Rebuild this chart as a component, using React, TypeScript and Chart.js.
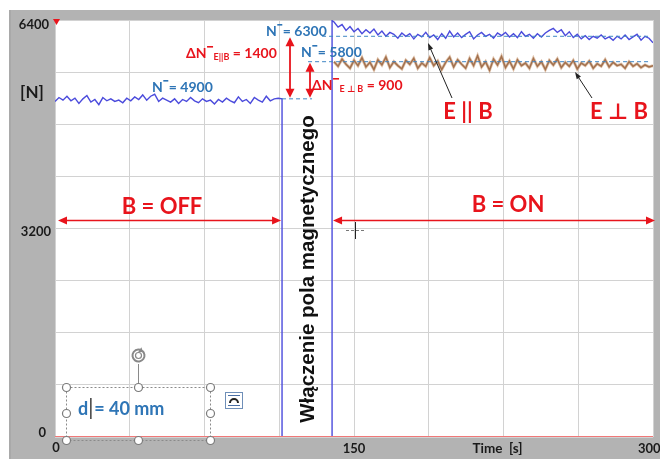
import React, { useEffect, useRef } from "react";
import { Chart, registerables } from "chart.js";

Chart.register(...registerables);

// ---- data ----
const SAMPLE_STEP = 2; // s
const beforeStart = 0; // s
// E || B, field off (N)
const parallelBefore = [
  5150, 5210, 5170, 5230, 5160, 5200, 5120, 5190, 5240, 5140,
  5180, 5100, 5210, 5160, 5190, 5150, 5170, 5130, 5200, 5160,
  5220, 5180, 5250, 5170, 5230, 5260, 5150, 5200, 5170, 5140,
  5190, 5120, 5180, 5150, 5210, 5160, 5130, 5190, 5150, 5170,
  5110, 5180, 5140, 5200, 5160, 5130, 5220, 5150, 5180, 5120,
  5210, 5170, 5140, 5230, 5160, 5190, 5200,
];
// switching the field on (box drawn by the E || B trace)
const switchTimes = [113.9, 113.9, 139, 139];
const switchValues = [5190, 0, 0, 6390];
const afterStart = 140; // s
// E || B, field on (N)
const parallelAfter = [
  6370, 6290, 6330, 6240, 6300, 6220, 6270, 6190, 6250, 6200,
  6260, 6170, 6230, 6150, 6210, 6180, 6120, 6200, 6150, 6190,
  6110, 6180, 6140, 6210, 6130, 6170, 6100, 6190, 6120, 6230,
  6140, 6200, 6130, 6180, 6220, 6110, 6170, 6210, 6150, 6180,
  6120, 6200, 6160, 6210, 6140, 6190, 6130, 6220, 6150, 6180,
  6120, 6190, 6140, 6200, 6240, 6270, 6210, 6250, 6160, 6220,
  6130, 6180, 6110, 6160, 6100, 6150, 6120, 6170, 6110, 6140,
  6090, 6150, 6110, 6170, 6100, 6140, 6180, 6090, 6150, 6120,
  6050,
];
// E ⊥ B, field on (N)
const perpendicularAfter = [
  5760, 5690, 5800, 5720, 5660, 5780, 5700, 5820, 5680, 5750,
  5640, 5790, 5710, 5830, 5670, 5760, 5700, 5650, 5780, 5720,
  5810, 5660, 5740, 5690, 5820, 5700, 5770, 5640, 5750, 5830,
  5680, 5790, 5720, 5660, 5810, 5700, 5850, 5680, 5760, 5630,
  5800, 5710, 5840, 5670, 5770, 5650, 5790, 5700, 5740, 5660,
  5810, 5690, 5760, 5640, 5780, 5710, 5800, 5670, 5750, 5690,
  5780, 5650, 5740, 5700, 5770, 5660, 5730, 5690, 5790, 5680,
  5750, 5700, 5720, 5660, 5760, 5690, 5730, 5670, 5710, 5680,
  5700,
];
// red trace lying on zero
const baselineTimes = [0, 300];
const baselineValues = [0, 0];

const xTickValues = [0, 150, 300];
const xTickLabels = ["0", "150", "300"];
const yTickValues = [0, 3200, 6400];
const yTickLabels = ["0", "3200", "6400"];
const xAxisTitle = "Time  [s]";
const yAxisTitle = "[N]";

const levelBefore = 4900;
const levelParallel = 6300;
const levelPerp = 5800;
const deltaParallel = 1400;
const deltaPerp = 900;

// ---- helpers ----
const sampled = (start: number, values: number[]) =>
  values.map((v, i) => ({ x: start + i * SAMPLE_STEP, y: v }));
const paired = (ts: number[], vs: number[]) => ts.map((t, i) => ({ x: t, y: vs[i] }));

const RED = "#e8141c";
const STEEL = "#2e75b6";
const CAL = "Lato, 'DejaVu Sans', sans-serif";

function txt(
  ctx: CanvasRenderingContext2D,
  s: string,
  x: number,
  y: number,
  font: string,
  color: string,
  align: CanvasTextAlign = "left"
) {
  ctx.font = font;
  ctx.fillStyle = color;
  ctx.textAlign = align;
  ctx.textBaseline = "middle";
  ctx.fillText(s, x, y);
  return ctx.measureText(s).width;
}

function arrowHead(ctx: CanvasRenderingContext2D, x: number, y: number, ang: number, len: number, w: number, color: string) {
  ctx.save();
  ctx.translate(x, y);
  ctx.rotate(ang);
  ctx.fillStyle = color;
  ctx.beginPath();
  ctx.moveTo(0, 0);
  ctx.lineTo(-len, -w);
  ctx.lineTo(-len, w);
  ctx.closePath();
  ctx.fill();
  ctx.restore();
}

function arrow(ctx: CanvasRenderingContext2D, x1: number, y1: number, x2: number, y2: number, color: string, lw: number, both: boolean, hl = 9, hw = 4) {
  const ang = Math.atan2(y2 - y1, x2 - x1);
  ctx.save();
  ctx.strokeStyle = color;
  ctx.lineWidth = lw;
  ctx.beginPath();
  ctx.moveTo(x1 + (both ? Math.cos(ang) * hl * 0.7 : 0), y1 + (both ? Math.sin(ang) * hl * 0.7 : 0));
  ctx.lineTo(x2 - Math.cos(ang) * hl * 0.7, y2 - Math.sin(ang) * hl * 0.7);
  ctx.stroke();
  ctx.restore();
  arrowHead(ctx, x2, y2, ang, hl, hw, color);
  if (both) arrowHead(ctx, x1, y1, ang + Math.PI, hl, hw, color);
}

function dashed(ctx: CanvasRenderingContext2D, x1: number, x2: number, y: number) {
  ctx.save();
  ctx.strokeStyle = "#3f86c4";
  ctx.lineWidth = 1;
  ctx.setLineDash([4, 3]);
  ctx.beginPath();
  ctx.moveTo(x1, y);
  ctx.lineTo(x2, y);
  ctx.stroke();
  ctx.restore();
}

function levelLabel(ctx: CanvasRenderingContext2D, x: number, y: number, value: number) {
  const f = `bold 14px ${CAL}`;
  const w = txt(ctx, "N", x, y, f, STEEL);
  ctx.fillStyle = STEEL;
  ctx.fillRect(x + w + 0.5, y - 7, 5, 1.6);
  txt(ctx, `= ${value}`, x + w + 6, y, f, STEEL);
}

function deltaLabel(ctx: CanvasRenderingContext2D, x: number, y: number, sub: string, value: number) {
  const f = `bold 14px ${CAL}`;
  let cx = x;
  cx += txt(ctx, "ΔN", cx, y, f, RED);
  ctx.fillStyle = RED;
  ctx.fillRect(cx + 0.5, y - 7, 6, 1.6);
  cx += 7;
  cx += txt(ctx, sub, cx, y + 4, `bold 9px ${CAL}`, RED);
  txt(ctx, ` = ${value}`, cx, y, f, RED);
}

const framePlugin = {
  id: "frame",
  beforeDraw(chart: any) {
    const { ctx, chartArea: a, width, height } = chart;
    ctx.save();
    ctx.fillStyle = "#ffffff";
    ctx.fillRect(0, 0, width, height);
    ctx.fillStyle = "#b3b3b3";
    ctx.fillRect(9, 10, width - 9, height - 10);
    ctx.fillStyle = "#a9a9a9";
    ctx.fillRect(9, 10, 2, height - 10);
    ctx.fillStyle = "#ffffff";
    ctx.fillRect(a.left, a.top, a.right - a.left, a.bottom - a.top);
    ctx.restore();
  },
};

const annotatePlugin = {
  id: "annotate",
  afterDraw(chart: any) {
    const { ctx, chartArea: a } = chart;
    const xs = chart.scales.x;
    const ys = chart.scales.y;
    const X = (t: number) => xs.getPixelForValue(t);
    const Y = (v: number) => ys.getPixelForValue(v);
    ctx.save();

    // tick labels
    const tf = `bold 13px ${CAL}`;
    txt(ctx, yTickLabels[2], 49, Y(yTickValues[2]) + 5, tf, "#1a1a1a", "right");
    txt(ctx, yTickLabels[1], 51, Y(yTickValues[1]) + 3, tf, "#1a1a1a", "right");
    txt(ctx, yTickLabels[0], 46, Y(yTickValues[0]) - 4, tf, "#1a1a1a", "right");
    txt(ctx, xTickLabels[0], X(xTickValues[0]) + 1, a.bottom + 11, tf, "#1a1a1a", "center");
    txt(ctx, xTickLabels[1], X(xTickValues[1]), a.bottom + 12, tf, "#1a1a1a", "center");
    txt(ctx, xTickLabels[2], X(xTickValues[2]) - 15, a.bottom + 12, tf, "#1a1a1a", "left");
    txt(ctx, xAxisTitle, X(222), a.bottom + 12, `bold 13.5px ${CAL}`, "#1a1a1a", "center");
    txt(ctx, yAxisTitle, 32, Y(5600) + 20, `bold 17px ${CAL}`, "#1a1a1a", "center");

    // red marker triangle at top-left
    ctx.fillStyle = RED;
    ctx.beginPath();
    ctx.moveTo(53, a.top - 1);
    ctx.lineTo(60, a.top - 1);
    ctx.lineTo(56.5, a.top + 5);
    ctx.closePath();
    ctx.fill();

    // dashed level lines
    const tOff = switchTimes[0];
    const tOn = switchTimes[2];
    dashed(ctx, X(tOff), X(tOff) + 30, Y(5190));
    dashed(ctx, X(tOn) - 10, X(300) - 4, Y(6150));
    dashed(ctx, X(tOn) - 24, X(300) - 4, Y(5760));

    // level labels
    levelLabel(ctx, 152, 87, levelBefore);
    levelLabel(ctx, 266, 31, levelParallel);
    levelLabel(ctx, 301, 52, levelPerp);
    deltaLabel(ctx, 186, 53, "E||B", deltaParallel);
    deltaLabel(ctx, 312, 85, "E ⊥ B", deltaPerp);

    // vertical double arrows
    arrow(ctx, 290, Y(6150) + 1, 290, Y(5190) - 1, RED, 1.8, true, 9, 4.5);
    arrow(ctx, 310, Y(5760) + 1, 310, Y(5190) - 1, RED, 1.8, true, 9, 4.5);

    // B = OFF / B = ON
    const yArr = Y(3200) - 8;
    arrow(ctx, a.left + 3, yArr, X(tOff) - 1, yArr, RED, 1.5, true, 9, 4);
    arrow(ctx, X(tOn) + 1, yArr, a.right + 2, yArr, RED, 1.5, true, 9, 4);
    txt(ctx, "B = OFF", 162, 207, `bold 22px ${CAL}`, RED, "center");
    txt(ctx, "B = ON", 508, 205, `bold 22px ${CAL}`, RED, "center");

    // E || B and E ⊥ B labels with pointers
    txt(ctx, "E || B", 468, 112, `bold 22px ${CAL}`, RED, "center");
    txt(ctx, "E ⊥ B", 619, 112, `bold 22px ${CAL}`, RED, "center");
    arrow(ctx, 452, 98, 428, 43, "#222222", 1, false, 7, 2.5);
    arrow(ctx, 592, 98, 575, 72, "#222222", 1, false, 7, 2.5);

    // rotated text
    ctx.save();
    ctx.translate(308, 269);
    ctx.rotate(-Math.PI / 2);
    txt(ctx, "Włączenie pola magnetycznego", 0, 0, "bold 20.5px 'Liberation Sans', Arial, sans-serif", "#111111", "center");
    ctx.restore();

    // crosshair cursor
    ctx.strokeStyle = "#777777";
    ctx.lineWidth = 1;
    ctx.setLineDash([3, 2]);
    ctx.beginPath();
    ctx.moveTo(346, 230.5);
    ctx.lineTo(365, 230.5);
    ctx.stroke();
    ctx.setLineDash([]);
    ctx.strokeStyle = "#222222";
    ctx.beginPath();
    ctx.moveTo(355.5, 222);
    ctx.lineTo(355.5, 239);
    ctx.stroke();

    // text box "d = 40 mm" with selection handles
    ctx.strokeStyle = "#8a8a8a";
    ctx.setLineDash([2, 2]);
    ctx.strokeRect(66.5, 387.5, 144, 53);
    ctx.setLineDash([]);
    ctx.beginPath();
    ctx.moveTo(138.5, 387);
    ctx.lineTo(138.5, 364);
    ctx.stroke();
    const hs = [
      [66, 387], [138, 387], [210, 387],
      [66, 413], [210, 413],
      [66, 440], [138, 440], [210, 440],
    ];
    for (const [hx, hy] of hs) {
      ctx.beginPath();
      ctx.arc(hx + 0.5, hy + 0.5, 4, 0, Math.PI * 2);
      ctx.fillStyle = "#ffffff";
      ctx.fill();
      ctx.strokeStyle = "#7a7a7a";
      ctx.lineWidth = 1.2;
      ctx.stroke();
    }
    // rotate handle
    ctx.strokeStyle = "#888888";
    ctx.lineWidth = 2;
    ctx.beginPath();
    ctx.arc(138.5, 355.5, 6, -0.3 * Math.PI, 1.6 * Math.PI);
    ctx.stroke();
    ctx.lineWidth = 1.2;
    ctx.beginPath();
    ctx.arc(138.5, 355.5, 3, 0, Math.PI * 2);
    ctx.stroke();
    arrowHead(ctx, 143, 352, 0.6, 4, 3, "#888888");
    // layout icon
    ctx.fillStyle = "#ffffff";
    ctx.fillRect(225, 392, 18, 17);
    ctx.strokeStyle = "#6f8fb8";
    ctx.lineWidth = 1;
    ctx.strokeRect(225.5, 392.5, 17, 16);
    ctx.fillStyle = "#4a6fa5";
    ctx.fillRect(228, 395, 12, 1);
    ctx.fillRect(228, 405, 12, 1);
    ctx.strokeStyle = "#222";
    ctx.lineWidth = 2;
    ctx.beginPath();
    ctx.arc(234, 403, 4, Math.PI, 2 * Math.PI);
    ctx.stroke();

    const dFont = `bold 18px ${CAL}`;
    const dw = txt(ctx, "d", 78, 409, dFont, STEEL);
    ctx.fillStyle = "#222";
    ctx.fillRect(78 + dw + 2, 398, 1.3, 21);
    txt(ctx, "= 40 mm", 78 + dw + 6, 409, dFont, STEEL);

    ctx.restore();
  },
};

export default function App() {
  const ref = useRef<HTMLCanvasElement | null>(null);
  useEffect(() => {
    if (!ref.current) return;
    const parallel = [
      ...sampled(beforeStart, parallelBefore),
      ...paired(switchTimes, switchValues),
      ...sampled(afterStart, parallelAfter),
    ];
    const perp = sampled(afterStart, perpendicularAfter);
    const chart = new Chart(ref.current, {
      type: "line",
      data: {
        datasets: [
          {
            label: "zero",
            data: paired(baselineTimes, baselineValues),
            borderColor: "#f07878",
            borderWidth: 2,
            pointRadius: 0,
          },
          {
            label: "E ⊥ B halo",
            data: perp,
            borderColor: "rgba(200,150,110,0.6)",
            borderWidth: 3,
            pointRadius: 0,
          },
          {
            label: "E ⊥ B",
            data: perp,
            borderColor: "#6b3a1e",
            borderWidth: 1.5,
            pointRadius: 0,
          },
          {
            label: "E || B",
            data: parallel,
            borderColor: "#4b4bdc",
            borderWidth: 1.4,
            pointRadius: 0,
          },
        ],
      },
      options: {
        animation: false,
        responsive: true,
        maintainAspectRatio: false,
        layout: { padding: { left: 55, top: 20, right: 7, bottom: 22 } },
        plugins: { legend: { display: false }, tooltip: { enabled: false } },
        elements: { line: { tension: 0 } },
        scales: {
          x: {
            type: "linear",
            min: 0,
            max: 300,
            ticks: { display: false, stepSize: 37.5 },
            grid: { color: "#d2d2d2", drawTicks: false, lineWidth: 1 },
            border: { display: false },
          },
          y: {
            type: "linear",
            min: 0,
            max: 6400,
            ticks: { display: false, stepSize: 800 },
            grid: { color: "#d2d2d2", drawTicks: false, lineWidth: 1 },
            border: { display: false },
          },
        },
      },
      plugins: [framePlugin, annotatePlugin],
    });
    return () => chart.destroy();
  }, []);
  return (
    <div style={{ position: "absolute", left: 0, top: 0, width: 660, height: 459 }}>
      <canvas ref={ref} />
    </div>
  );
}
